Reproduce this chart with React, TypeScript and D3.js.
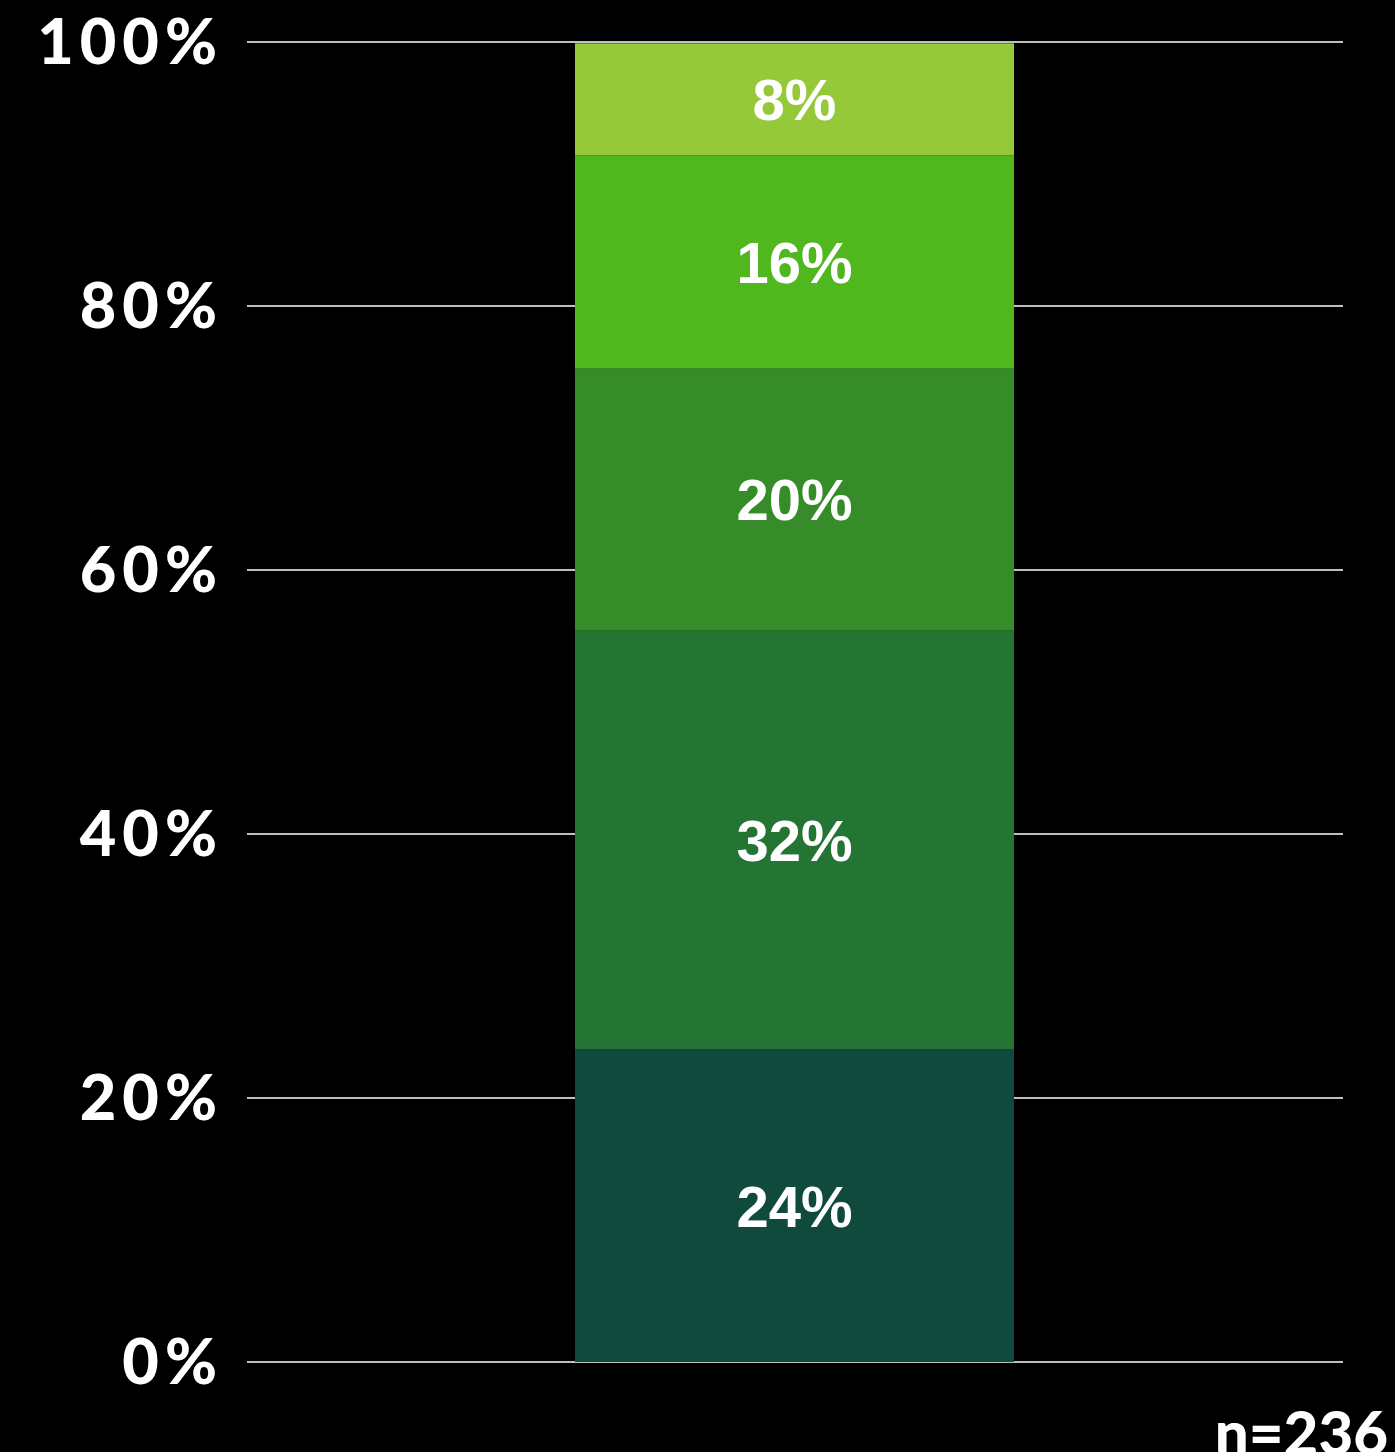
import React, { useEffect } from "react";
import * as d3 from "d3";

const segmentValues = [23.7, 31.7, 19.9, 16.1, 8.5];
const segmentLabels = ["24%", "32%", "20%", "16%", "8%"];
const segmentColors = ["#104A3C", "#247433", "#358C28", "#50B71F", "#95C93A"];
const yTicks = [0, 20, 40, 60, 80, 100];
const sampleNote = "n=236";
const category = ["All"];

const W = 1395;
const H = 1452;

export default function App() {
  useEffect(() => {
    document.body.style.margin = "0";
    document.body.style.background = "#000";
  }, []);

  const y = d3.scaleLinear().domain([0, 100]).range([1362, 42]);
  const x = d3.scaleBand().domain(category).range([575, 1014]).padding(0);
  const gridX0 = 247;
  const gridX1 = 1343;

  let cum = 0;
  const stacks = segmentValues.map((v, i) => {
    const y0 = cum;
    cum += v;
    return { y0, y1: cum, v, label: segmentLabels[i], color: segmentColors[i] };
  });

  const axisFont = "Lato, 'Open Sans', sans-serif";
  const barFont = "'Liberation Sans', Arial, sans-serif";

  return (
    <svg width={W} height={H} style={{ display: "block", background: "#000" }}>
      <rect x={0} y={0} width={W} height={H} fill="#000" />
      {yTicks.map((t) => (
        <g key={t}>
          <line x1={gridX0} x2={gridX1} y1={y(t)} y2={y(t)} stroke="#fff" strokeWidth={1.5} />
          <text
            x={223}
            y={y(t) + 22}
            textAnchor="end"
            fill="#fff"
            fontFamily={axisFont}
            fontWeight={900}
            fontSize={63}
            letterSpacing={6}
          >
            {t}%
          </text>
        </g>
      ))}
      {stacks.map((s, i) => (
        <g key={i}>
          <rect
            x={x("All")}
            width={x.bandwidth()}
            y={y(s.y1)}
            height={y(s.y0) - y(s.y1)}
            fill={s.color}
          />
          <text
            x={(x("All") as number) + x.bandwidth() / 2}
            y={(y(s.y0) + y(s.y1)) / 2 + 21}
            textAnchor="middle"
            fill="#fff"
            fontFamily={barFont}
            fontWeight={700}
            fontSize={58}
          >
            {s.label}
          </text>
        </g>
      ))}
      <text
        x={1388}
        y={1455}
        textAnchor="end"
        fill="#fff"
        fontFamily={axisFont}
        fontWeight={900}
        fontSize={60}
      >
        {sampleNote}
      </text>
    </svg>
  );
}
